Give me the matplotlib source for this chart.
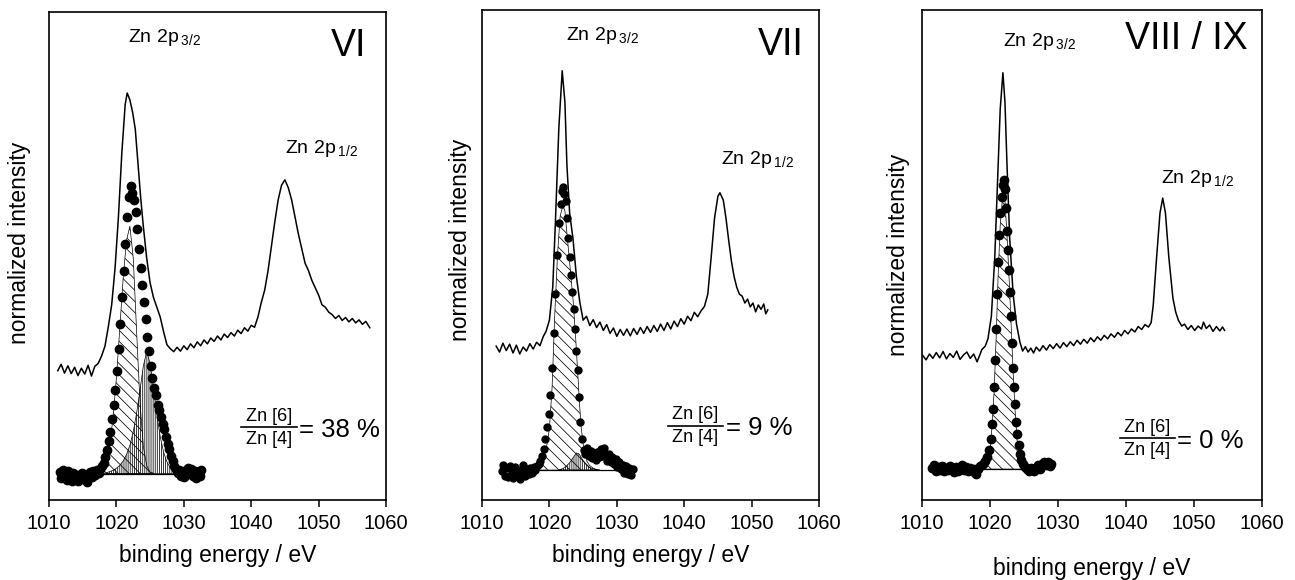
import numpy as np
import matplotlib
matplotlib.use('Agg')
import matplotlib.pyplot as plt

plt.rcParams['font.family'] = ['Liberation Sans', 'DejaVu Sans']
plt.rcParams['mathtext.fontset'] = 'custom'
plt.rcParams['mathtext.rm'] = 'Liberation Sans'
plt.rcParams['mathtext.it'] = 'Liberation Sans'
plt.rcParams['mathtext.default'] = 'regular'
plt.rcParams['hatch.linewidth'] = 0.55

# ---- panel VI ----
vi_survey = np.array([
    (1011.3, 26.5), (1011.8, 27.8), (1012.3, 26.0), (1012.8, 27.5), (1013.3, 25.9), (1013.8, 27.2),
    (1014.3, 25.5), (1014.8, 27.0), (1015.3, 25.8), (1015.8, 27.6), (1016.3, 25.4), (1016.8, 27.4),
    (1017.3, 28.0), (1017.8, 29.5), (1018.3, 31.5), (1018.8, 35.5), (1019.3, 40.0), (1019.8, 47.5),
    (1020.3, 58.0), (1020.8, 71.0), (1021.3, 81.0), (1021.6, 83.4), (1022.0, 82.0), (1022.4, 79.5),
    (1022.8, 76.0), (1023.2, 69.0), (1023.6, 62.0), (1024.0, 56.0), (1024.5, 49.5), (1025.0, 44.5),
    (1025.5, 41.5), (1026.0, 39.5), (1026.5, 37.5), (1027.0, 34.5), (1027.5, 31.8), (1028.0, 31.0),
    (1028.5, 30.4), (1029.0, 31.3), (1029.5, 30.5), (1030.0, 31.6), (1030.5, 30.8), (1031.0, 32.0),
    (1031.5, 31.2), (1032.0, 32.4), (1032.5, 31.6), (1033.0, 32.8), (1033.5, 32.0), (1034.0, 33.2),
    (1034.5, 32.5), (1035.0, 33.6), (1035.5, 32.8), (1036.0, 34.0), (1036.5, 33.3), (1037.0, 34.3),
    (1037.5, 33.6), (1038.0, 34.8), (1038.5, 34.1), (1039.0, 35.3), (1039.5, 34.6), (1040.0, 35.8),
    (1040.5, 35.4), (1041.0, 37.5), (1041.5, 40.5), (1042.0, 43.0), (1042.5, 47.0), (1043.0, 52.0),
    (1043.5, 57.0), (1044.0, 61.5), (1044.5, 64.5), (1045.0, 65.6), (1045.5, 64.0), (1046.0, 61.5),
    (1046.5, 58.0), (1047.0, 54.5), (1047.5, 51.5), (1048.0, 48.5), (1048.5, 47.0), (1049.0, 45.0),
    (1049.5, 43.5), (1050.0, 42.0), (1050.5, 40.0), (1051.0, 39.5), (1051.5, 38.5), (1052.0, 38.0),
    (1052.5, 37.2), (1053.0, 37.8), (1053.5, 36.8), (1054.0, 37.4), (1054.5, 36.5), (1055.0, 37.2),
    (1055.5, 36.3), (1056.0, 36.9), (1056.5, 36.0), (1057.0, 36.6), (1057.6, 35.3),
])
vi_dots = np.array([
    (1011.6, 5.8), (1011.85, 4.6), (1012.1, 6.2), (1012.35, 5.0), (1012.6, 4.2), (1012.85, 5.9),
    (1013.1, 4.8), (1013.35, 3.9), (1013.6, 5.5), (1013.85, 4.5), (1014.1, 5.2), (1014.35, 3.8),
    (1014.6, 4.6), (1014.85, 5.6), (1015.1, 4.3), (1015.35, 5.1), (1015.6, 3.6), (1015.85, 4.9),
    (1016.1, 5.7), (1016.35, 4.8), (1016.6, 5.9), (1016.85, 5.2), (1017.1, 6.1), (1017.35, 5.6),
    (1017.6, 6.4), (1017.85, 7.0), (1018.1, 7.6), (1018.35, 8.8), (1018.6, 10.2), (1018.85, 12.0),
    (1019.1, 14.0), (1019.35, 16.5), (1019.6, 19.5), (1019.85, 22.5), (1020.1, 26.5), (1020.35, 31.0),
    (1020.6, 36.0), (1020.85, 41.5), (1021.1, 47.0), (1021.35, 52.5), (1021.6, 58.0), (1021.85, 62.0),
    (1022.1, 64.4), (1022.35, 63.0), (1022.6, 61.5), (1022.85, 59.0), (1023.1, 55.5), (1023.35, 51.5),
    (1023.6, 47.5), (1023.85, 44.0), (1024.1, 40.5), (1024.35, 37.0), (1024.6, 33.5), (1024.85, 30.5),
    (1025.1, 27.5), (1025.35, 25.0), (1025.6, 23.0), (1025.85, 21.5), (1026.1, 19.5), (1026.35, 18.5),
    (1026.6, 17.0), (1026.85, 15.5), (1027.1, 14.5), (1027.35, 13.0), (1027.6, 11.5), (1027.85, 10.5),
    (1028.1, 9.0), (1028.35, 8.0), (1028.6, 7.0), (1028.85, 6.4), (1029.1, 5.5), (1029.35, 6.2),
    (1029.6, 5.0), (1029.85, 6.0), (1030.1, 4.8), (1030.35, 5.7), (1030.6, 6.5), (1030.85, 5.3),
    (1031.1, 6.3), (1031.35, 5.0), (1031.6, 6.0), (1031.85, 4.6), (1032.1, 5.8), (1032.35, 4.9),
    (1032.6, 6.1),
])
vi_zn4 = np.array([
    (1018.0, 6.5), (1018.5, 8.1), (1019.0, 11.3), (1019.5, 16.8), (1020.0, 25.0), (1020.5, 35.1),
    (1021.0, 45.4), (1021.5, 53.2), (1022.0, 56.1), (1022.5, 49.6), (1023.0, 34.5), (1023.5, 20.0),
    (1024.0, 10.9), (1024.5, 7.0), (1025.0, 5.7), (1025.5, 5.5),
])
vi_zn6 = np.array([
    (1018.5, 5.6), (1019.0, 5.8), (1019.5, 6.1), (1020.0, 6.5), (1020.5, 7.1), (1021.0, 8.0),
    (1021.5, 9.3), (1022.0, 11.2), (1022.5, 14.0), (1023.0, 17.8), (1023.5, 22.5), (1024.0, 27.5),
    (1024.5, 30.4), (1025.0, 28.0), (1025.5, 23.0), (1026.0, 17.5), (1026.5, 13.0), (1027.0, 9.8),
    (1027.5, 7.8), (1028.0, 6.6), (1028.5, 5.9), (1028.7, 5.5),
])
vi_base = 5.4
vi_base_span = (1018.0, 1028.5)

# ---- panel VII ----
vii_survey = np.array([
    (1012.1, 31.4), (1012.6, 30.2), (1013.1, 32.0), (1013.6, 30.5), (1014.1, 31.8), (1014.6, 30.0),
    (1015.1, 31.6), (1015.6, 29.8), (1016.1, 31.2), (1016.6, 30.4), (1017.1, 31.9), (1017.6, 30.8),
    (1018.1, 32.2), (1018.6, 31.5), (1019.1, 33.4), (1019.5, 34.4), (1020.0, 36.7), (1020.5, 43.5),
    (1020.9, 57.0), (1021.4, 75.9), (1021.9, 87.6), (1022.3, 81.2), (1022.6, 68.3), (1023.0, 58.6),
    (1023.5, 53.3), (1024.0, 45.7), (1024.5, 40.5), (1025.0, 36.7), (1025.5, 37.5), (1026.0, 35.6),
    (1026.5, 36.8), (1027.0, 35.2), (1027.5, 36.3), (1028.0, 34.6), (1028.5, 35.8), (1029.0, 34.0),
    (1029.5, 35.1), (1030.0, 33.4), (1030.5, 34.8), (1031.0, 33.6), (1031.5, 34.9), (1032.0, 33.5),
    (1032.5, 35.0), (1033.0, 33.8), (1033.5, 35.2), (1034.0, 34.0), (1034.5, 35.4), (1035.0, 34.2),
    (1035.5, 35.6), (1036.0, 34.4), (1036.5, 35.9), (1037.0, 34.6), (1037.5, 36.2), (1038.0, 34.9),
    (1038.5, 36.5), (1039.0, 35.4), (1039.5, 37.0), (1040.0, 35.9), (1040.5, 37.5), (1041.0, 36.6),
    (1041.5, 38.3), (1042.0, 37.4), (1042.5, 38.6), (1043.0, 39.5), (1043.5, 42.0), (1044.0, 49.5),
    (1044.5, 57.5), (1045.0, 62.0), (1045.3, 62.7), (1045.8, 61.2), (1046.2, 57.5), (1046.6, 53.0),
    (1047.0, 48.8), (1047.4, 45.6), (1047.8, 43.4), (1048.2, 42.0), (1048.6, 41.6), (1049.0, 40.2),
    (1049.4, 41.0), (1049.8, 39.4), (1050.2, 40.2), (1050.6, 38.4), (1051.0, 39.8), (1051.4, 38.9),
    (1051.8, 40.0), (1052.1, 38.0), (1052.4, 38.8),
])
vii_dots = np.array([
    (1012.9, 6.0), (1013.15, 7.2), (1013.4, 5.0), (1013.65, 6.5), (1013.9, 4.6), (1014.15, 7.0),
    (1014.4, 5.6), (1014.65, 4.4), (1014.9, 6.8), (1015.15, 5.2), (1015.4, 6.2), (1015.65, 4.3),
    (1015.9, 5.8), (1016.15, 7.1), (1016.4, 5.0), (1016.65, 6.4), (1016.9, 5.3), (1017.15, 6.6),
    (1017.4, 5.5), (1017.65, 6.8), (1017.9, 6.2), (1018.15, 7.0), (1018.4, 7.4), (1018.65, 8.0),
    (1018.9, 9.0), (1019.15, 10.5), (1019.4, 12.5), (1019.65, 15.0), (1019.9, 17.5), (1020.15, 21.5),
    (1020.4, 27.0), (1020.65, 34.0), (1020.9, 42.0), (1021.15, 50.0), (1021.4, 56.5), (1021.65, 60.5),
    (1021.9, 63.0), (1022.05, 63.8), (1022.2, 62.5), (1022.4, 61.0), (1022.6, 57.5), (1022.8, 53.5),
    (1023.0, 49.5), (1023.2, 46.0), (1023.4, 42.5), (1023.6, 39.0), (1023.8, 35.0), (1024.0, 30.5),
    (1024.2, 26.5), (1024.4, 21.0), (1024.6, 16.0), (1024.85, 12.5), (1025.1, 10.2), (1025.35, 9.4),
    (1025.6, 10.6), (1025.85, 9.0), (1026.1, 10.0), (1026.35, 8.6), (1026.6, 9.6), (1026.85, 8.2),
    (1027.1, 9.8), (1027.35, 8.8), (1027.6, 10.4), (1027.85, 9.0), (1028.1, 10.6), (1028.35, 9.2),
    (1028.6, 8.0), (1028.85, 9.4), (1029.1, 7.8), (1029.35, 8.8), (1029.6, 7.4), (1029.85, 8.4),
    (1030.1, 6.8), (1030.35, 7.8), (1030.6, 6.4), (1030.85, 7.2), (1031.1, 5.6), (1031.35, 6.9),
    (1031.6, 5.4), (1031.85, 6.6), (1032.1, 5.2), (1032.4, 6.3),
])
vii_zn4 = np.array([
    (1017.0, 6.2), (1017.5, 6.5), (1018.0, 6.9), (1018.5, 7.6), (1019.0, 8.6), (1019.5, 10.2),
    (1020.0, 14.5), (1020.4, 23.0), (1020.8, 38.0), (1021.2, 50.0), (1021.6, 58.0), (1022.0, 60.0),
    (1022.3, 59.0), (1022.7, 53.0), (1023.1, 47.0), (1023.5, 41.0), (1023.9, 33.0), (1024.2, 26.0),
    (1024.5, 19.0), (1024.7, 15.0), (1025.0, 11.5), (1025.2, 9.6), (1025.6, 7.8), (1026.0, 7.0),
    (1026.5, 6.5), (1027.0, 6.2),
])
vii_zn6 = np.array([
    (1021.5, 6.2), (1022.0, 6.4), (1022.5, 6.9), (1023.0, 7.6), (1023.5, 8.6), (1024.0, 9.6),
    (1024.4, 9.4), (1024.8, 8.5), (1025.2, 7.6), (1025.6, 7.0), (1026.0, 6.6), (1026.5, 6.4),
    (1027.0, 6.2), (1027.5, 6.1),
])
vii_base = 6.1
vii_base_span = (1013.0, 1030.5)

# ---- panel VIII / IX ----
viii_survey = np.array([
    (1010.1, 29.5), (1010.6, 28.6), (1011.1, 29.8), (1011.6, 28.9), (1012.1, 30.1), (1012.6, 29.0),
    (1013.1, 30.3), (1013.6, 28.8), (1014.1, 29.9), (1014.6, 29.1), (1015.1, 30.4), (1015.6, 28.7),
    (1016.1, 29.6), (1016.6, 30.2), (1017.1, 28.9), (1017.6, 29.8), (1018.1, 28.2), (1018.5, 29.6),
    (1018.8, 30.7), (1019.3, 31.4), (1019.7, 32.9), (1020.2, 37.5), (1020.7, 49.5), (1021.1, 64.6),
    (1021.5, 79.7), (1021.9, 87.2), (1022.2, 81.2), (1022.5, 68.4), (1022.9, 53.3), (1023.4, 42.0),
    (1023.9, 35.9), (1024.4, 32.2), (1024.8, 30.4), (1025.2, 31.3), (1025.6, 30.2), (1026.0, 31.0),
    (1026.4, 30.0), (1026.8, 31.2), (1027.3, 30.4), (1027.8, 31.5), (1028.3, 30.6), (1028.8, 31.7),
    (1029.3, 30.9), (1029.8, 31.9), (1030.3, 31.0), (1030.8, 32.1), (1031.3, 31.3), (1031.8, 32.3),
    (1032.3, 31.5), (1032.8, 32.6), (1033.3, 31.8), (1033.8, 32.8), (1034.3, 32.0), (1034.8, 33.1),
    (1035.3, 32.3), (1035.8, 33.3), (1036.3, 32.6), (1036.8, 33.6), (1037.3, 32.9), (1037.8, 33.9),
    (1038.3, 33.2), (1038.8, 34.2), (1039.3, 33.5), (1039.8, 34.6), (1040.3, 33.9), (1040.8, 34.9),
    (1041.3, 34.3), (1041.8, 35.4), (1042.3, 34.8), (1042.8, 35.8), (1043.3, 35.3), (1043.7, 36.2),
    (1044.0, 39.7), (1044.5, 49.5), (1045.0, 58.6), (1045.4, 61.6), (1045.8, 58.6), (1046.3, 49.5),
    (1046.9, 41.2), (1047.3, 38.4), (1047.7, 36.7), (1048.2, 35.5), (1048.6, 35.9), (1049.1, 34.8),
    (1049.6, 35.6), (1050.1, 34.6), (1050.6, 35.5), (1051.1, 34.9), (1051.4, 36.3), (1051.8, 35.0),
    (1052.3, 35.7), (1052.8, 34.4), (1053.3, 35.4), (1053.8, 34.5), (1054.2, 35.3), (1054.5, 34.6),
])
viii_dots = np.array([
    (1011.4, 6.5), (1011.7, 7.1), (1012.0, 6.0), (1012.3, 6.8), (1012.6, 6.2), (1012.9, 7.0),
    (1013.2, 5.9), (1013.5, 6.6), (1013.8, 6.1), (1014.1, 6.9), (1014.4, 6.3), (1014.7, 5.8),
    (1015.0, 6.7), (1015.3, 6.0), (1015.6, 6.5), (1015.9, 7.2), (1016.2, 6.1), (1016.5, 6.8),
    (1016.8, 5.9), (1017.1, 6.6), (1017.4, 6.0), (1017.7, 6.4), (1018.0, 5.4), (1018.3, 6.3),
    (1018.6, 6.9), (1018.9, 7.4), (1019.2, 8.0), (1019.5, 8.8), (1019.8, 10.2), (1020.1, 12.5),
    (1020.3, 15.5), (1020.45, 18.5), (1020.6, 23.0), (1020.75, 28.5), (1020.9, 35.0), (1021.05, 42.0),
    (1021.2, 48.5), (1021.35, 54.0), (1021.5, 58.5), (1021.7, 61.8), (1021.9, 64.2), (1022.05, 65.3),
    (1022.2, 63.5), (1022.35, 59.5), (1022.5, 55.0), (1022.65, 51.0), (1022.8, 47.0), (1022.95, 42.5),
    (1023.1, 37.5), (1023.25, 32.0), (1023.4, 27.0), (1023.55, 23.0), (1023.7, 19.5), (1023.85, 16.0),
    (1024.0, 13.5), (1024.2, 11.2), (1024.4, 9.4), (1024.6, 8.2), (1024.9, 7.3), (1025.2, 6.8),
    (1025.5, 6.3), (1025.8, 6.0), (1026.1, 6.5), (1026.4, 5.9), (1026.7, 6.6), (1027.0, 7.1),
    (1027.3, 6.4), (1027.6, 7.3), (1027.9, 7.8), (1028.2, 7.2), (1028.5, 7.7), (1028.8, 7.0),
    (1029.0, 7.4),
])
viii_zn4 = np.array([
    (1019.2, 6.4), (1019.6, 7.5), (1020.0, 10.5), (1020.3, 15.0), (1020.6, 22.0), (1020.9, 33.0),
    (1021.2, 46.0), (1021.5, 56.0), (1021.8, 61.0), (1022.0, 62.0), (1022.2, 61.0), (1022.5, 54.0),
    (1022.8, 45.5), (1023.1, 36.0), (1023.4, 26.0), (1023.7, 18.0), (1024.0, 12.0), (1024.3, 8.8),
    (1024.6, 7.0), (1024.9, 6.4),
])
viii_base = 6.3
viii_base_span = (1019.0, 1025.0)

panel_names = ['VI', 'VII', 'VIII / IX']
ratios = ['38 %', '9 %', '0 %']
xticks = [1010, 1020, 1030, 1040, 1050, 1060]


def draw_panel(ax, survey, dots, zn4, zn6, base, span, name, ratio, lay, msize):
    ax.plot(survey[:, 0], survey[:, 1], color='black', lw=1.1)

    # fitted components: Zn[4] diagonal, Zn[6] vertical hatching
    ax.fill_between(zn4[:, 0], base, zn4[:, 1], facecolor='none', edgecolor='black',
                    hatch='\\\\\\', lw=0.5, zorder=2)
    if zn6 is not None:
        ax.fill_between(zn6[:, 0], base, zn6[:, 1], facecolor='none', edgecolor='black',
                        hatch='||||||||', lw=0.5, zorder=3)
    ax.plot(span, [base, base], color='black', lw=0.9, zorder=3)

    # measured points
    ax.plot(dots[:, 0], dots[:, 1], 'o', color='black', ms=msize, mec='black', zorder=4)

    ax.set_xlim(1010, 1060)
    ax.set_ylim(0, 100)
    ax.set_xticks(xticks)
    ax.set_yticks([])
    ax.tick_params(axis='x', direction='out', length=5, width=1.1, labelsize=14.5, pad=5)
    for s in ax.spines.values():
        s.set_linewidth(1.2)

    ax.set_xlabel('binding energy / eV', fontsize=16.5, labelpad=lay['xpad'])
    ax.set_ylabel('normalized intensity', fontsize=16.5)
    ax.yaxis.set_label_coords(lay['ylab'][0], lay['ylab'][1])

    tr = ax.transAxes
    ax.text(lay['p32'][0], lay['p32'][1], r'Zn 2p$\,_{3/2}$', transform=tr, fontsize=14,
            ha='left', va='center')
    ax.text(lay['p12'][0], lay['p12'][1], r'Zn 2p$\,_{1/2}$', transform=tr, fontsize=14,
            ha='left', va='center')
    ax.text(lay['name'][0], lay['name'][1], name, transform=tr, fontsize=27,
            ha='right', va='center')

    # Zn[6]/Zn[4] ratio
    x0, x1, yb = lay['frac']
    xc = (x0 + x1) / 2
    ax.plot([x0, x1], [yb, yb], color='black', lw=1.2, transform=tr, clip_on=False)
    ax.text(xc, yb + 0.005, 'Zn [6]', transform=tr, fontsize=13, ha='center', va='bottom')
    ax.text(xc, yb - 0.008, 'Zn [4]', transform=tr, fontsize=13, ha='center', va='top')
    ax.text(x1 + 0.008, yb - 0.006, '= ' + ratio, transform=tr, fontsize=18.5,
            ha='left', va='center')


fig = plt.figure(figsize=(12.95, 5.8), dpi=100)
ax1 = fig.add_axes([49 / 1295, 80 / 580, 337 / 1295, 488 / 580])
ax2 = fig.add_axes([482 / 1295, 80 / 580, 337 / 1295, 490 / 580])
ax3 = fig.add_axes([922 / 1295, 80 / 580, 340 / 1295, 490 / 580])

lay1 = dict(xpad=8, ylab=(-0.052, 0.527), p32=(0.235, 0.947), p12=(0.70, 0.72),
            name=(0.94, 0.93), frac=(0.571, 0.735, 0.149))
lay2 = dict(xpad=8, ylab=(-0.031, 0.53), p32=(0.25, 0.948), p12=(0.71, 0.695),
            name=(0.953, 0.928), frac=(0.552, 0.715, 0.152))
lay3 = dict(xpad=17, ylab=(-0.034, 0.50), p32=(0.239, 0.936), p12=(0.704, 0.657),
            name=(0.959, 0.94), frac=(0.582, 0.743, 0.126))

draw_panel(ax1, vi_survey, vi_dots, vi_zn4, vi_zn6, vi_base, vi_base_span,
           panel_names[0], ratios[0], lay1, 6)
draw_panel(ax2, vii_survey, vii_dots, vii_zn4, vii_zn6, vii_base, vii_base_span,
           panel_names[1], ratios[1], lay2, 5)
draw_panel(ax3, viii_survey, viii_dots, viii_zn4, None, viii_base, viii_base_span,
           panel_names[2], ratios[2], lay3, 6)

fig.savefig('out.png', dpi=100)
